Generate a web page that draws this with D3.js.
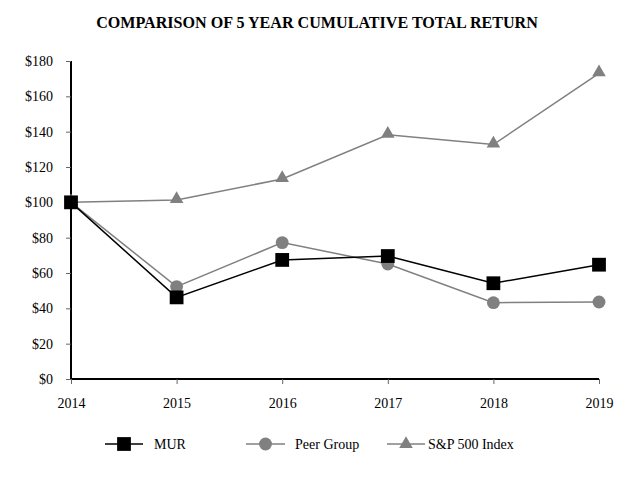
<!DOCTYPE html>
<html><head><meta charset="utf-8">
<script src="https://cdn.jsdelivr.net/npm/d3@7"></script>
<style>body{margin:0;background:#fff}svg{display:block}text{font-family:"Liberation Serif","Times New Roman",serif}</style>
</head><body><svg id="c" width="633" height="480"></svg>
<script>
const years = [2014, 2015, 2016, 2017, 2018, 2019];
const mur = [100, 46.2, 67.4, 69.6, 54.2, 64.7];
const peer = [100, 52.3, 77.2, 65.1, 43.2, 43.6];
const sp500 = [100, 101.3, 113.2, 138.2, 132.7, 173.0];
const yTicks = [0, 20, 40, 60, 80, 100, 120, 140, 160, 180];
const seriesNames = ["MUR", "Peer Group", "S&P 500 Index"];

const svg = d3.select("#c");
const m = {l: 71, r: 599, t: 61, b: 379};
const x = d3.scalePoint().domain(years).range([m.l, m.r]);
const y = d3.scaleLinear().domain([0, 180]).range([m.b, m.t]);

svg.append("text").attr("x", 317).attr("y", 28).attr("text-anchor", "middle")
  .attr("font-size", 16.1).attr("font-weight", "bold").text("COMPARISON OF 5 YEAR CUMULATIVE TOTAL RETURN");

// y axis
const ya = svg.append("g").attr("transform", `translate(${m.l},0)`)
  .call(d3.axisLeft(y).tickValues(yTicks).tickSize(5).tickPadding(13).tickFormat(d => "$" + d));
ya.select(".domain").attr("stroke", "#000").attr("stroke-width", 2).attr("d", `M0,${m.b}V${m.t}`);
ya.selectAll(".tick line").attr("stroke", "#666");
ya.selectAll("text").attr("font-size", 14).attr("font-family", "Liberation Serif, serif").attr("fill", "#000");

// x axis
const xa = svg.append("g").attr("transform", `translate(0,${m.b})`)
  .call(d3.axisBottom(x).tickSize(5).tickPadding(14).tickFormat(d => d));
xa.select(".domain").attr("stroke", "#000").attr("stroke-width", 2.2).attr("d", `M${m.l},0H${m.r}`);
xa.selectAll(".tick line").attr("stroke", "#666");
xa.selectAll("text").attr("font-size", 14).attr("font-family", "Liberation Serif, serif").attr("fill", "#000");

const line = d3.line().x((d, i) => x(years[i])).y(d => y(d));
const series = [
  {name: seriesNames[2], vals: sp500, color: "#808080", sym: d3.symbolTriangle, size: 80, w: 1.5},
  {name: seriesNames[1], vals: peer, color: "#808080", sym: d3.symbolCircle, size: 130, w: 1.5},
  {name: seriesNames[0], vals: mur, color: "#000", sym: d3.symbolSquare, size: 190, w: 1.5}
];
series.forEach(s => {
  svg.append("path").datum(s.vals).attr("d", line).attr("fill", "none")
    .attr("stroke", s.color).attr("stroke-width", s.w);
  svg.selectAll(null).data(s.vals).enter().append("path")
    .attr("d", d3.symbol().type(s.sym).size(s.size))
    .attr("transform", (d, i) => `translate(${x(years[i])},${y(d) + (s.sym === d3.symbolTriangle ? -1 : 0)})`)
    .attr("fill", s.color);
});

// legend
const leg = [
  {name: seriesNames[0], color: "#000", sym: d3.symbolSquare, size: 190, x1: 105, x2: 143, tx: 154},
  {name: seriesNames[1], color: "#808080", sym: d3.symbolCircle, size: 130, x1: 246, x2: 285, tx: 295},
  {name: seriesNames[2], color: "#808080", sym: d3.symbolTriangle, size: 80, x1: 387, x2: 425, tx: 428}
];
const ly = 444;
leg.forEach(l => {
  svg.append("line").attr("x1", l.x1).attr("x2", l.x2).attr("y1", ly).attr("y2", ly)
    .attr("stroke", l.color).attr("stroke-width", 1.5);
  svg.append("path").attr("d", d3.symbol().type(l.sym).size(l.size))
    .attr("transform", `translate(${(l.x1 + l.x2) / 2},${ly})`).attr("fill", l.color);
  svg.append("text").attr("x", l.tx).attr("y", ly + 5).attr("font-size", 14).text(l.name);
});
</script></body></html>
